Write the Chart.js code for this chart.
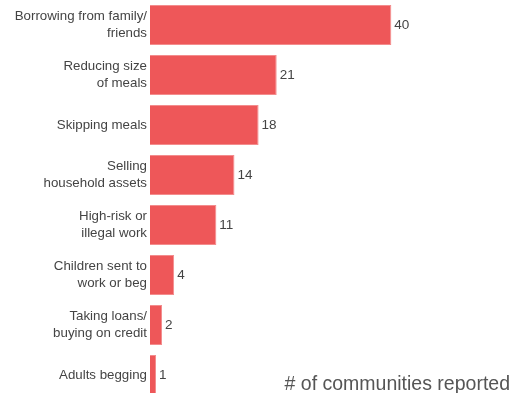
<!DOCTYPE html>
<html>
<head>
<meta charset="utf-8">
<script src="https://cdn.jsdelivr.net/npm/chart.js@4/dist/chart.umd.min.js"></script>
<style>
  html, body { margin: 0; padding: 0; background: #fff; overflow: hidden; }
  #wrap { position: relative; width: 512px; height: 400px; }
  #axisTitle { position: absolute; right: 2px; top: 371px; font-family: "Liberation Sans", Arial, sans-serif; font-size: 19.5px; color: #555; white-space: nowrap; line-height: 24px; }
</style>
</head>
<body>
<div id="wrap">
  <canvas id="c" width="512" height="400"></canvas>
  <div id="axisTitle"># of communities reported</div>
</div>
<script>
const categories = [
  ["Borrowing from family/", "friends"],
  ["Reducing size", "of meals"],
  ["Skipping meals"],
  ["Selling", "household assets"],
  ["High-risk or", "illegal work"],
  ["Children sent to", "work or beg"],
  ["Taking loans/", "buying on credit"],
  ["Adults begging"]
];
const communities = [40, 21, 18, 14, 11, 4, 2, 1];

const valueLabels = {
  id: 'valueLabels',
  afterDatasetsDraw(chart) {
    const ctx = chart.ctx;
    const meta = chart.getDatasetMeta(0);
    ctx.save();
    ctx.font = '13.5px "Liberation Sans", Arial, sans-serif';
    ctx.fillStyle = '#444';
    ctx.textAlign = 'left';
    ctx.textBaseline = 'middle';
    meta.data.forEach((bar, i) => {
      ctx.fillText(String(chart.data.datasets[0].data[i]), bar.x + 3, bar.y);
    });
    ctx.restore();
  }
};

new Chart(document.getElementById('c'), {
  type: 'bar',
  data: {
    labels: categories,
    datasets: [{
      data: communities,
      backgroundColor: '#ee5759',
      borderColor: '#f38c8d',
      borderWidth: 1,
      barPercentage: 0.8,
      categoryPercentage: 1.0
    }]
  },
  options: {
    indexAxis: 'y',
    responsive: false,
    animation: false,
    layout: { padding: 0 },
    plugins: { legend: { display: false }, tooltip: { enabled: false } },
    scales: {
      x: { display: false, min: 0, max: 60 },
      y: {
        grid: { display: false, drawTicks: false },
        border: { display: false },
        afterFit(scale) { scale.width = 150; scale.paddingTop = 0; scale.paddingBottom = 0; },
        ticks: {
          padding: 3,
          color: '#444',
          font: { family: '"Liberation Sans", Arial, sans-serif', size: 13.3, lineHeight: 1.28 }
        }
      }
    }
  },
  plugins: [valueLabels]
});
</script>
</body>
</html>
